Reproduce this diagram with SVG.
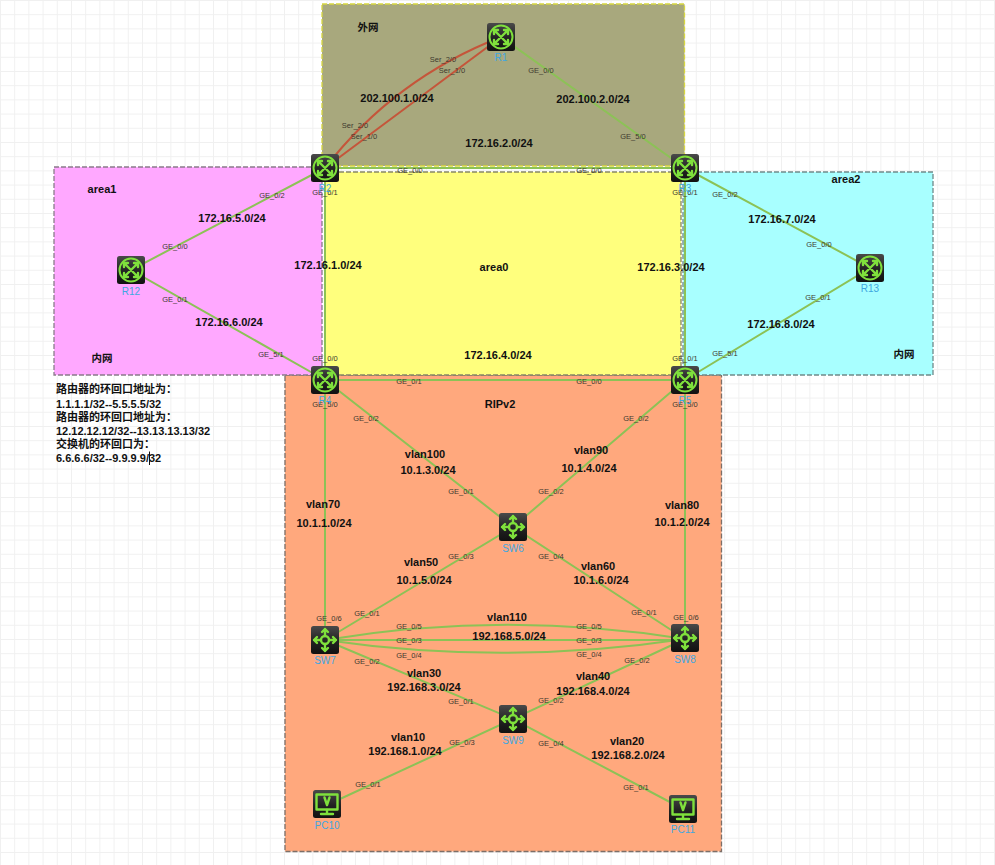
<svg xmlns="http://www.w3.org/2000/svg" width="995" height="865" viewBox="0 0 995 865">
<style>
text{font-family:"Liberation Sans",Arial,"Noto Sans CJK SC",sans-serif}
.z{stroke-width:1.3;stroke-dasharray:5 2}
.l{fill:none;stroke:#8cc256;stroke-width:2}
.s{fill:none;stroke:#c5553a;stroke-width:2}
.t{font-size:11px;font-weight:bold;fill:#111;text-anchor:middle}
.p{font-size:7.5px;fill:#40382f;text-anchor:middle}
.n{font-size:10px;fill:#3fa7e0;text-anchor:middle}
.i{fill:none;stroke:#7fe03c;stroke-width:2.4;stroke-linecap:round;stroke-linejoin:round}
</style>
<defs>
<pattern id="grid" width="14.2" height="14.2" patternUnits="userSpaceOnUse"><path d="M0.500 0V14.200M0 0.500H14.200" fill="none" stroke="#f0f0f0" stroke-width="1"/></pattern>
<linearGradient id="b" x1="0" y1="0" x2="0" y2="1"><stop offset="0" stop-color="#4a4a4a"/><stop offset="0.55" stop-color="#222"/><stop offset="1" stop-color="#111"/></linearGradient>
<symbol id="rt" viewBox="-14 -14 28 28" overflow="visible"><rect x="-14" y="-14" width="28" height="28" rx="2.5" fill="url(#b)"/><circle r="11.5" class="i" style="stroke-width:2"/><path class="i" d="M-6-6L6 6M6-6L-6 6M-7-3V-7H-3M7-3V-7H3M-7 3V7H-3M7 3V7H3"/></symbol>
<symbol id="sw" viewBox="-14 -14 28 28" overflow="visible"><rect x="-14" y="-14" width="28" height="28" rx="2.5" fill="url(#b)"/><circle r="4" class="i"/><path class="i" d="M0-4V-11M0 4V11M-4 0H-11M4 0H11M-3-8L0-11L3-8M-3 8L0 11L3 8M-8-3L-11 0L-8 3M8-3L11 0L8 3"/></symbol>
<symbol id="pc" viewBox="-14 -14 28 28" overflow="visible"><rect x="-14" y="-14" width="28" height="28" rx="2.5" fill="url(#b)"/><rect x="-10.5" y="-9.5" width="21" height="15" class="i"/><path class="i" d="M-2.5-6.5L0 1L2.5-6.5M0 6V9M-6 10H6"/></symbol>
</defs>
<rect width="995" height="865" fill="#fff"/>
<rect width="995" height="865" fill="url(#grid)"/>
<g id="zones">
<rect id="zone-rip" class="z" x="285" y="375" width="436.500" height="476.500" fill="#ffa87d" stroke="#7d6f68"/>
<rect id="zone-area1" class="z" x="54" y="167" width="268" height="208" fill="#ffa8ff" stroke="#8a7a8a"/>
<rect id="zone-area2" class="z" x="683" y="172" width="250" height="203" fill="#a8ffff" stroke="#6f8a8a"/>
<rect id="zone-wan" class="z" x="322" y="4" width="362.500" height="162" fill="#a8a87d" stroke="#d8d840"/>
<rect id="zone-area0" class="z" x="325" y="172" width="356" height="203" fill="#ffff7d" stroke="#888866"/>
</g>
<g id="connectors">
<path class="s" d="M325 168Q395 78 501 37"/>
<path class="s" d="M325 168L501 37"/>
<path class="l" d="M501 37L685 168"/>
<path class="l" d="M325 168H685"/>
<path class="l" d="M325 168V380"/>
<path class="l" d="M685 168V380"/>
<path class="l" d="M325 380H685"/>
<path class="l" d="M325 168L131 270L325 380"/>
<path class="l" d="M685 168L870 268L685 380"/>
<path class="l" d="M325 380L513 527L685 380"/>
<path class="l" d="M325 380V640"/>
<path class="l" d="M685 380V639"/>
<path class="l" d="M325 640L513 527L685 639"/>
<path class="l" d="M325 640Q505 610 685 639"/>
<path class="l" d="M325 640H685"/>
<path class="l" d="M325 640Q505 666 685 639"/>
<path class="l" d="M325 640L513 719L685 639"/>
<path class="l" d="M327 805L513 719L683 809"/>
</g>
<g id="zone-labels" font-weight="bold" fill="#111" font-size="10.500px">
<text x="368" y="31" text-anchor="middle">外网</text>
<text x="102" y="193" text-anchor="middle" font-size="11px">area1</text>
<text x="846" y="183" text-anchor="middle" font-size="11px">area2</text>
<text x="494" y="271" text-anchor="middle" font-size="11px">area0</text>
<text x="102" y="362" text-anchor="middle">内网</text>
<text x="904" y="358" text-anchor="middle">内网</text>
<text x="500" y="408" text-anchor="middle" font-size="11px">RIPv2</text>
</g>
<g id="link-labels">
<text class="t" x="397" y="102">202.100.1.0/24</text>
<text class="t" x="593" y="103">202.100.2.0/24</text>
<text class="t" x="499" y="147">172.16.2.0/24</text>
<text class="t" x="232" y="222">172.16.5.0/24</text>
<text class="t" x="229" y="326">172.16.6.0/24</text>
<text class="t" x="328" y="269">172.16.1.0/24</text>
<text class="t" x="671" y="271">172.16.3.0/24</text>
<text class="t" x="498" y="359">172.16.4.0/24</text>
<text class="t" x="782" y="223">172.16.7.0/24</text>
<text class="t" x="781" y="328">172.16.8.0/24</text>
<text class="t" x="425" y="458">vlan100</text>
<text class="t" x="428" y="474">10.1.3.0/24</text>
<text class="t" x="591" y="454">vlan90</text>
<text class="t" x="589" y="472">10.1.4.0/24</text>
<text class="t" x="323" y="508">vlan70</text>
<text class="t" x="324" y="527">10.1.1.0/24</text>
<text class="t" x="682" y="509">vlan80</text>
<text class="t" x="682" y="526">10.1.2.0/24</text>
<text class="t" x="421" y="566">vlan50</text>
<text class="t" x="424" y="584">10.1.5.0/24</text>
<text class="t" x="598" y="570">vlan60</text>
<text class="t" x="601" y="584">10.1.6.0/24</text>
<text class="t" x="507" y="621">vlan110</text>
<text class="t" x="509" y="640">192.168.5.0/24</text>
<text class="t" x="424" y="677">vlan30</text>
<text class="t" x="424" y="691">192.168.3.0/24</text>
<text class="t" x="593" y="680">vlan40</text>
<text class="t" x="593" y="695">192.168.4.0/24</text>
<text class="t" x="408" y="741">vlan10</text>
<text class="t" x="405" y="755">192.168.1.0/24</text>
<text class="t" x="627" y="745">vlan20</text>
<text class="t" x="628" y="759">192.168.2.0/24</text>
</g>
<g id="port-labels">
<text class="p" x="443" y="62">Ser_2/0</text>
<text class="p" x="452" y="73">Ser_1/0</text>
<text class="p" x="355" y="128">Ser_2/0</text>
<text class="p" x="364" y="139">Ser_1/0</text>
<text class="p" x="541" y="73">GE_0/0</text>
<text class="p" x="633" y="139">GE_5/0</text>
<text class="p" x="410" y="173">GE_0/0</text>
<text class="p" x="589" y="173">GE_0/0</text>
<text class="p" x="325" y="195">GE_6/1</text>
<text class="p" x="685" y="195">GE_6/1</text>
<text class="p" x="272" y="198">GE_0/2</text>
<text class="p" x="175" y="249">GE_0/0</text>
<text class="p" x="175" y="302">GE_0/1</text>
<text class="p" x="271" y="357">GE_5/1</text>
<text class="p" x="325" y="361">GE_0/0</text>
<text class="p" x="325" y="407">GE_5/0</text>
<text class="p" x="409" y="384">GE_0/1</text>
<text class="p" x="589" y="384">GE_0/0</text>
<text class="p" x="366" y="421">GE_0/2</text>
<text class="p" x="636" y="421">GE_0/2</text>
<text class="p" x="685" y="407">GE_5/0</text>
<text class="p" x="685" y="361">GE_0/1</text>
<text class="p" x="725" y="197">GE_0/2</text>
<text class="p" x="819" y="247">GE_0/0</text>
<text class="p" x="818" y="300">GE_0/1</text>
<text class="p" x="725" y="356">GE_5/1</text>
<text class="p" x="461" y="494">GE_0/1</text>
<text class="p" x="551" y="494">GE_0/2</text>
<text class="p" x="461" y="559">GE_0/3</text>
<text class="p" x="551" y="559">GE_0/4</text>
<text class="p" x="329" y="621">GE_0/6</text>
<text class="p" x="367" y="616">GE_0/1</text>
<text class="p" x="644" y="615">GE_0/1</text>
<text class="p" x="686" y="620">GE_0/6</text>
<text class="p" x="409" y="629">GE_0/5</text>
<text class="p" x="589" y="629">GE_0/5</text>
<text class="p" x="409" y="643">GE_0/3</text>
<text class="p" x="589" y="643">GE_0/3</text>
<text class="p" x="409" y="658">GE_0/4</text>
<text class="p" x="589" y="657">GE_0/4</text>
<text class="p" x="367" y="664">GE_0/2</text>
<text class="p" x="637" y="663">GE_0/2</text>
<text class="p" x="461" y="704">GE_0/1</text>
<text class="p" x="551" y="703">GE_0/2</text>
<text class="p" x="462" y="745">GE_0/3</text>
<text class="p" x="551" y="746">GE_0/4</text>
<text class="p" x="368" y="787">GE_0/1</text>
<text class="p" x="636" y="790">GE_0/1</text>
</g>
<g id="note" font-weight="bold" fill="#111" font-size="11px">
<text x="56" y="393">路由器的环回口地址为：</text>
<text x="56" y="408">1.1.1.1/32--5.5.5.5/32</text>
<text x="56" y="421">路由器的环回口地址为：</text>
<text x="56" y="435">12.12.12.12/32--13.13.13.13/32</text>
<text x="56" y="448">交换机的环回口为：</text>
<text x="56" y="462">6.6.6.6/32--9.9.9.9/32</text>
<path d="M149.500 451.500V465" stroke="#111" stroke-width="1"/>
</g>
<g id="R1"><use href="#rt" x="487" y="23" width="28" height="28"/><text class="n" x="501" y="61">R1</text></g>
<g id="R2"><use href="#rt" x="311" y="154" width="28" height="28"/><text class="n" x="325" y="192">R2</text></g>
<g id="R3"><use href="#rt" x="671" y="154" width="28" height="28"/><text class="n" x="685" y="192">R3</text></g>
<g id="R4"><use href="#rt" x="311" y="366" width="28" height="28"/><text class="n" x="325" y="404">R4</text></g>
<g id="R5"><use href="#rt" x="671" y="366" width="28" height="28"/><text class="n" x="685" y="404">R5</text></g>
<g id="R12"><use href="#rt" x="117" y="256" width="28" height="28"/><text class="n" x="131" y="295">R12</text></g>
<g id="R13"><use href="#rt" x="856" y="254" width="28" height="28"/><text class="n" x="870" y="292">R13</text></g>
<g id="SW6"><use href="#sw" x="499" y="513" width="28" height="28"/><text class="n" x="513" y="552">SW6</text></g>
<g id="SW7"><use href="#sw" x="311" y="626" width="28" height="28"/><text class="n" x="325" y="664">SW7</text></g>
<g id="SW8"><use href="#sw" x="671" y="624" width="28" height="28"/><text class="n" x="685" y="663">SW8</text></g>
<g id="SW9"><use href="#sw" x="499" y="705" width="28" height="28"/><text class="n" x="513" y="744">SW9</text></g>
<g id="PC10"><use href="#pc" x="313" y="790" width="28" height="28"/><text class="n" x="327" y="829">PC10</text></g>
<g id="PC11"><use href="#pc" x="669" y="795" width="28" height="28"/><text class="n" x="683" y="833">PC11</text></g>
</svg>
